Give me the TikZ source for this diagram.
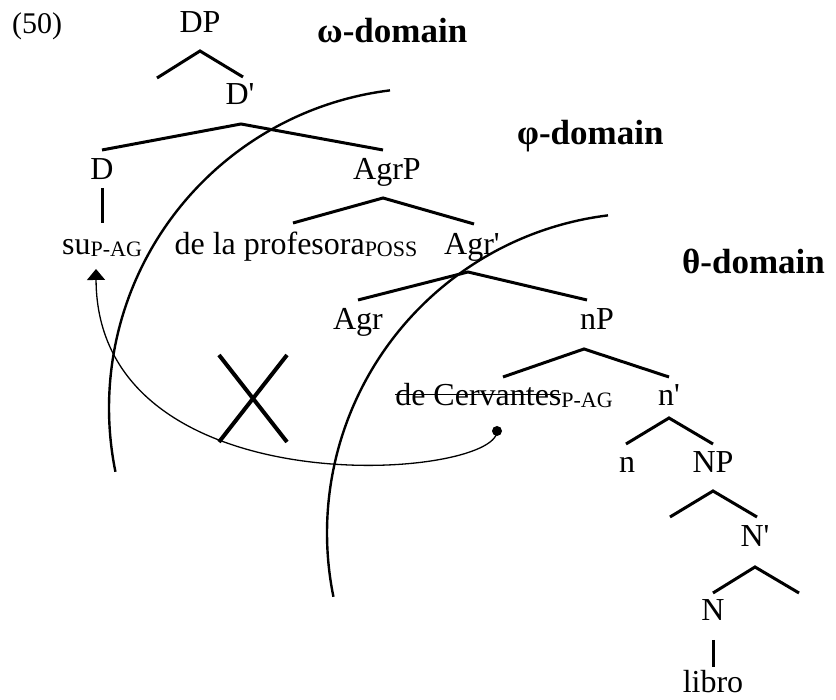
\documentclass[tikz,border=0pt]{standalone}
\usepackage{fontspec}
\setmainfont{Liberation Serif}
\usetikzlibrary{arrows.meta}
\newlength\strklen
\newcommand\mystrike[1]{\settowidth\strklen{#1}\rlap{\rule[0.33em]{\strklen}{1.6pt}}#1}
\newcommand\subsc[1]{\raisebox{-1.5pt}{\fontsize{22}{24}\selectfont #1}}
\newcommand\pr{\textquotesingle}
\begin{document}
\begin{tikzpicture}[x=1pt,y=1pt,
 lab/.style={inner sep=0pt, anchor=base, font=\fontsize{32}{38}\selectfont},
 dom/.style={inner sep=0pt, anchor=base west, font=\fontsize{35}{40}\selectfont\bfseries},
 branch/.style={line width=3pt},
 boundary/.style={line width=2.4pt},
 move/.style={line width=1.3pt, -{Triangle[width=18pt,length=11pt]}},
 cross/.style={line width=4pt}
]
\useasboundingbox (0,0) rectangle (836,700);
% labels
\node[lab, anchor=base west, font=\fontsize{30}{36}\selectfont] (ex) at (12,666) {(50)};
\node[lab] (DP) at (200,667) {DP};
\node[lab] (Dbar) at (240,595) {D\pr};
\node[lab] (D) at (102,520) {D};
\node[lab] (AgrP) at (387,520) {AgrP};
\node[lab] (su) at (102,445) {su\subsc{P-AG}};
\node[lab] (prof) at (296,445) {de la profesora\subsc{POSS}};
\node[lab] (Agrbar) at (472,445) {Agr\pr};
\node[lab] (Agr) at (358,370) {Agr};
\node[lab] (nP) at (597,370) {nP};
\node[lab] (cerv) at (504,294) {\mystrike{de Cervantes}\subsc{P-AG}};
\node[lab] (nbar) at (669,294) {n\pr};
\node[lab] (n) at (627,227) {n};
\node[lab] (NP) at (713,227) {NP};
\node[lab] (Nbar) at (755,153) {N\pr};
\node[lab] (N) at (713,79) {N};
\node[lab] (libro) at (713,7) {libro};
% domain labels
\node[dom] (omega) at (317,657) {ω-domain};
\node[dom] (phi) at (517,555) {φ-domain};
\node[dom] (theta) at (682,426) {θ-domain};
% branch points
\coordinate (DPa) at (200,649);
\coordinate (DPl) at (157,622);
\coordinate (DPr) at (243,623);
\coordinate (Da) at (241,576);
\coordinate (Dl) at (102,550);
\coordinate (Dr) at (383,550);
\coordinate (Dv1) at (102,512);
\coordinate (Dv2) at (102,477);
\coordinate (AgrPa) at (383,502);
\coordinate (AgrPl) at (293,477);
\coordinate (AgrPr) at (474,476);
\coordinate (Agrba) at (468,428);
\coordinate (Agrbl) at (358,400);
\coordinate (Agrbr) at (587,400);
\coordinate (nPa) at (584,351);
\coordinate (nPl) at (503,323);
\coordinate (nPr) at (669,323);
\coordinate (nba) at (669,282);
\coordinate (nbl) at (626,256);
\coordinate (nbr) at (713,256);
\coordinate (NPa) at (713,209);
\coordinate (NPl) at (670,183);
\coordinate (NPr) at (757,183);
\coordinate (Nba) at (755,133);
\coordinate (Nbl) at (713,107);
\coordinate (Nbr) at (799,107);
\coordinate (Nv1) at (713,60);
\coordinate (Nv2) at (713,33);
% branches
\draw[branch] (DPl) -- (DPa) -- (DPr);
\draw[branch] (Dl) -- (Da) -- (Dr);
\draw[branch] (Dv1) -- (Dv2);
\draw[branch] (AgrPl) -- (AgrPa) -- (AgrPr);
\draw[branch] (Agrbl) -- (Agrba) -- (Agrbr);
\draw[branch] (nPl) -- (nPa) -- (nPr);
\draw[branch] (nbl) -- (nba) -- (nbr);
\draw[branch] (NPl) -- (NPa) -- (NPr);
\draw[branch] (Nbl) -- (Nba) -- (Nbr);
\draw[branch] (Nv1) -- (Nv2);
% domain boundaries
\draw[boundary] (429,292) ++(97:320) arc[start angle=97, end angle=191.5, radius=320];
\draw[boundary] (647,167) ++(97:320) arc[start angle=97, end angle=191.5, radius=320];
% movement
\coordinate (trace) at (497,269);
\coordinate (suArr) at (96,431);
\fill (trace) circle[radius=5];
\draw[move] (trace) .. controls (497,220) and (97,190) .. (suArr);
% cross
\draw[cross] (219,345) -- (287,258);
\draw[cross] (287,345) -- (219,258);
\end{tikzpicture}
\end{document}
